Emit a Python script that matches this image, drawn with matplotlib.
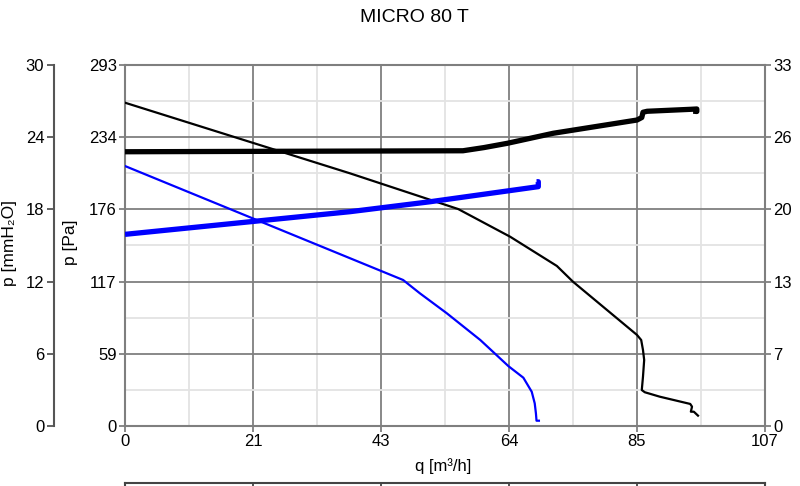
import matplotlib
matplotlib.use("Agg")
import matplotlib.pyplot as plt
import numpy as np

plt.rcParams['font.family'] = ['Liberation Sans', 'DejaVu Sans']

# ---- data ----
title = "MICRO 80 T"
q_ticks = [0, 21, 43, 64, 85, 107]
pa_ticks = [0, 59, 117, 176, 234, 293]
mm_ticks = [0, 6, 12, 18, 24, 30]
right_ticks = [0, 7, 13, 20, 26, 33]

# pressure curves (Pa)
black_q = [0, 37.6, 55.7, 64.4, 72.2, 74.9, 85.6, 86.3, 86.6, 86.8, 86.6, 86.4, 86.9, 89.4, 94.5, 94.8, 94.6, 95.1, 95.8]
black_p = [262.4, 205.1, 176.1, 153.6, 129.9, 117.1, 73.9, 69.8, 61.7, 53.6, 40.0, 29.2, 27.4, 23.8, 17.9, 15.7, 11.6, 11.6, 8.4]
blue_q = [0, 46.5, 49.3, 53.8, 59.4, 64.1, 66.6, 68.0, 68.5, 68.7, 68.8, 69.2]
blue_p = [211.0, 118.5, 107.7, 91.5, 69.8, 48.6, 39.2, 27.8, 18.4, 10.3, 4.3, 4.3]

# power curves (right axis)
black_w_q = [0, 56.5, 60.0, 63.9, 71.6, 85.6, 86.4, 86.6, 87.3, 94.6, 95.6, 95.6, 95.0]
black_w = [25.07, 25.16, 25.45, 25.84, 26.76, 27.97, 28.20, 28.68, 28.77, 28.95, 28.98, 28.75, 28.78]
blue_w_q = [0, 37.6, 51.0, 69.1, 69.1, 68.8]
blue_w = [17.52, 19.59, 20.50, 21.88, 22.33, 22.33]

W, H = 800, 486
fig = plt.figure(figsize=(8, 4.86), dpi=100)
x0, x1, y0, y1 = 125, 765, 65, 426
ax = fig.add_axes([x0 / W, (H - y1) / H, (x1 - x0) / W, (y1 - y0) / H])

qmax = q_ticks[-1]
pmax = pa_ticks[-1]
ax.set_xlim(0, qmax)
ax.set_ylim(0, pmax)
qt = np.linspace(0, qmax, len(q_ticks))
pt = np.linspace(0, pmax, len(pa_ticks))
ax.set_xticks(qt)
ax.set_xticklabels([str(v) for v in q_ticks])
ax.set_yticks(pt)
ax.set_yticklabels([str(v) for v in pa_ticks])
ax.set_xticks((qt[:-1] + qt[1:]) / 2, minor=True)
ax.set_yticks((pt[:-1] + pt[1:]) / 2, minor=True)
ax.grid(True, which='major', color='#7f7f7f', lw=1.3)
ax.grid(True, which='minor', color='#e3e3e3', lw=1.3)
ax.tick_params(which='minor', length=0)
ax.tick_params(which='major', length=4, width=1.3, color='#7f7f7f', labelsize=12, pad=2)
for s in ax.spines.values():
    s.set_color('#7f7f7f')
    s.set_linewidth(1.5)
ax.set_axisbelow(True)

ax.plot(black_q, black_p, color='black', lw=1.6, zorder=3)
ax.plot(blue_q, blue_p, color='#0000ff', lw=1.6, zorder=3)

# right axis
axr = ax.twinx()
rmax = right_ticks[-1]
axr.set_ylim(0, rmax)
rt = np.linspace(0, rmax, len(right_ticks))
axr.set_yticks(rt)
axr.set_yticklabels([str(v) for v in right_ticks])
axr.tick_params(length=4, width=1.3, color='#7f7f7f', labelsize=12, pad=2)
for s in axr.spines.values():
    s.set_visible(False)
axr.plot(black_w_q, black_w, color='black', lw=3.8, solid_capstyle='butt', zorder=3)
axr.plot(blue_w_q, blue_w, color='#0000ff', lw=3.8, solid_capstyle='butt', zorder=3)

# outer left axis mmH2O
axl = ax.twinx()
axl.set_ylim(0, mm_ticks[-1])
axl.set_yticks(mm_ticks)
axl.yaxis.set_ticks_position('left')
axl.yaxis.set_label_position('left')
for k, s in axl.spines.items():
    s.set_visible(k == 'left')
axl.spines['left'].set_position(('outward', (x0 - 54) * 72 / 100))
axl.spines['left'].set_color('#555555')
axl.spines['left'].set_linewidth(1.5)
axl.tick_params(length=5, width=1.3, color='#555555', labelsize=12, pad=2)

# labels
fig.text(414 / W, 1 - 18 / H, title, ha='center', va='center', fontsize=14)
fig.text(10 / W, 1 - 243 / H, "p [mmH₂O]", rotation=90, ha='center', va='center', fontsize=12.5)
fig.text(70 / W, 1 - 242 / H, "p [Pa]", rotation=90, ha='center', va='center', fontsize=12.5)
fig.text(443 / W, 1 - 466 / H, "q [m³/h]", ha='center', va='center', fontsize=12)

# table frame at bottom (cut off)
axb = fig.add_axes([x0 / W, -10 / H, (x1 - x0) / W, 13 / H])
axb.set_xlim(0, qmax)
axb.set_ylim(0, 1)
axb.set_xticks([]); axb.set_yticks([])
for s in axb.spines.values():
    s.set_color('#444444'); s.set_linewidth(1.5)
for v in qt[1:-1]:
    axb.axvline(v, color='#444444', lw=1.3)
axb.patch.set_alpha(0)

fig.savefig("out.png", dpi=100)
